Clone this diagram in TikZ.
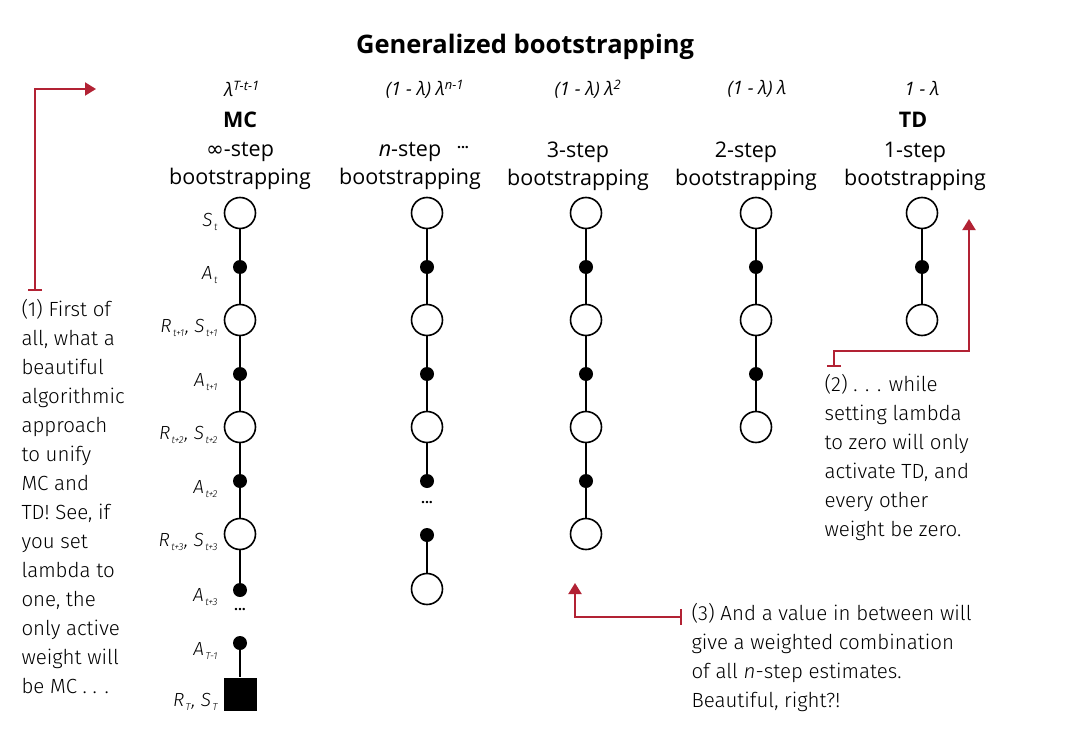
\documentclass[tikz,border=0pt]{standalone}
\usepackage{fontspec}
\setmainfont{Open Sans}
\newfontfamily\hand{Fira Sans Light}
\newfontfamily\sym{DejaVu Sans}
\usetikzlibrary{arrows.meta}
\definecolor{ared}{HTML}{B22234}
\tikzset{
  st/.style={circle,draw,line width=1.6pt,minimum size=31pt,inner sep=0pt,fill=white},
  ac/.style={circle,fill=black,minimum size=14pt,inner sep=0pt},
  term/.style={rectangle,fill=black,minimum size=33pt,inner sep=0pt},
  edge/.style={line width=1.6pt},
  head/.style={font=\fontsize{21.5}{28}\selectfont,align=center},
  wt/.style={font=\fontsize{18.5}{20}\selectfont\itshape},
  lab/.style={anchor=east,font=\hand\fontsize{19}{20}\selectfont\itshape},
  note/.style={anchor=north west,align=left,font=\hand\fontsize{20.5}{29}\selectfont},
  dots/.style={font=\fontsize{14}{14}\selectfont\bfseries,inner sep=0pt},
  rline/.style={ared,line width=2pt},
}
\newcommand{\lb}[2]{#1\kern1.5pt\raisebox{-4pt}{\fontsize{10}{10}\selectfont #2}\kern1pt}
\begin{document}
\begin{tikzpicture}[x=1pt,y=-1pt]
\useasboundingbox (0,0) rectangle (1076,733);
\node[font=\bfseries\fontsize{25.5}{30}\selectfont] (title) at (525,47) {Generalized bootstrapping};
% weights
\node[wt] (w1) at (242,89) {λ\textsuperscript{T-t-1}};
\node[wt] (w2) at (425,89) {(1 - λ) λ\textsuperscript{n-1}};
\node[wt] (w3) at (588,89) {(1 - λ) λ\textsuperscript{2}};
\node[wt] (w4) at (757,89) {(1 - λ) λ};
\node[wt] (w5) at (922,89) {1 - λ};
\node[font=\bfseries\fontsize{21.5}{24}\selectfont] (mc) at (240,120) {MC};
\node[font=\bfseries\fontsize{21.5}{24}\selectfont] (td) at (913,120) {TD};
\node[head] (h1) at (240,166) {{\sym ∞}-step\\bootstrapping};
\node[head] (h2) at (410,166) {\textit{n}-step\\bootstrapping};
\node[dots] (hd) at (463,148) {...};
\node[head] (h3) at (578,166) {3-step\\bootstrapping};
\node[head] (h4) at (746,166) {2-step\\bootstrapping};
\node[head] (h5) at (915,166) {1-step\\bootstrapping};
% MC column
\node[st] (m1) at (240,213) {};
\node[ac] (m2) at (240,267) {};
\node[st] (m3) at (240,320) {};
\node[ac] (m4) at (240,374) {};
\node[st] (m5) at (240,427) {};
\node[ac] (m6) at (240,481) {};
\node[st] (m7) at (240,534) {};
\node[ac] (m8) at (240,590) {};
\node[dots] (md) at (240,610) {...};
\node[ac] (m9) at (240,643) {};
\node[term] (m10) at (240,694) {};
\foreach \a/\b in {m1/m2,m2/m3,m3/m4,m4/m5,m5/m6,m6/m7,m7/m8,m9/m10}
  \draw[edge] (\a) -- (\b);
\node[lab] (l1) at (222,222) {\lb{S}{t}};
\node[lab] (l2) at (222,275) {\lb{A}{t}};
\node[lab] (l3) at (222,328) {\lb{R}{t+1}, \lb{S}{t+1}};
\node[lab] (l4) at (222,382) {\lb{A}{t+1}};
\node[lab] (l5) at (222,435) {\lb{R}{t+2}, \lb{S}{t+2}};
\node[lab] (l6) at (222,489) {\lb{A}{t+2}};
\node[lab] (l7) at (222,542) {\lb{R}{t+3}, \lb{S}{t+3}};
\node[lab] (l8) at (222,597) {\lb{A}{t+3}};
\node[lab] (l9) at (222,651) {\lb{A}{T-1}};
\node[lab] (l10) at (222,702) {\lb{R}{T}, \lb{S}{T}};
% n-step column
\node[st] (n1) at (427,213) {};
\node[ac] (n2) at (427,267) {};
\node[st] (n3) at (427,320) {};
\node[ac] (n4) at (427,374) {};
\node[st] (n5) at (427,427) {};
\node[ac] (n6) at (427,481) {};
\node[dots] (nd) at (427,503) {...};
\node[ac] (n7) at (427,535) {};
\node[st] (n8) at (427,589) {};
\foreach \a/\b in {n1/n2,n2/n3,n3/n4,n4/n5,n5/n6,n7/n8}
  \draw[edge] (\a) -- (\b);
% 3-step
\node[st] (t1) at (586,213) {};
\node[ac] (t2) at (586,267) {};
\node[st] (t3) at (586,320) {};
\node[ac] (t4) at (586,374) {};
\node[st] (t5) at (586,427) {};
\node[ac] (t6) at (586,481) {};
\node[st] (t7) at (586,534) {};
\foreach \a/\b in {t1/t2,t2/t3,t3/t4,t4/t5,t5/t6,t6/t7}
  \draw[edge] (\a) -- (\b);
% 2-step
\node[st] (u1) at (756,213) {};
\node[ac] (u2) at (756,267) {};
\node[st] (u3) at (756,320) {};
\node[ac] (u4) at (756,374) {};
\node[st] (u5) at (756,427) {};
\foreach \a/\b in {u1/u2,u2/u3,u3/u4,u4/u5}
  \draw[edge] (\a) -- (\b);
% TD
\node[st] (v1) at (922,213) {};
\node[ac] (v2) at (922,267) {};
\node[st] (v3) at (922,320) {};
\foreach \a/\b in {v1/v2,v2/v3}
  \draw[edge] (\a) -- (\b);
% annotations
\coordinate (a1s) at (35,291);
\coordinate (a1c) at (35,89);
\coordinate (a1e) at (96,89);
\draw[rline,{Bar[width=14pt]}-{Triangle[width=13pt,length=11pt]}] (a1s) -- (a1c) -- (a1e);
\node[note] (n1t) at (18,296) {(1) First of\\all, what a\\beautiful\\algorithmic\\approach\\to unify\\MC and\\TD! See, if\\you set\\lambda to\\one, the\\only active\\weight will\\be MC . . .};
\coordinate (a2s) at (834,367);
\coordinate (a2c1) at (834,351);
\coordinate (a2c2) at (969,351);
\coordinate (a2e) at (969,219);
\draw[rline,{Bar[width=14pt]}-{Triangle[width=13pt,length=11pt]}] (a2s) -- (a2c1) -- (a2c2) -- (a2e);
\node[note] (n2t) at (821,371) {(2) . . . while\\setting lambda\\to zero will only\\activate TD, and\\every other\\weight be zero.};
\coordinate (a3s) at (682,617);
\coordinate (a3c) at (575,617);
\coordinate (a3e) at (575,583);
\draw[rline,{Bar[width=16pt]}-{Triangle[width=13pt,length=11pt]}] (a3s) -- (a3c) -- (a3e);
\node[note] (n3t) at (688,600) {(3) And a value in between will\\give a weighted combination\\of all \textit{n}-step estimates.\\Beautiful, right?!};
\end{tikzpicture}
\end{document}
